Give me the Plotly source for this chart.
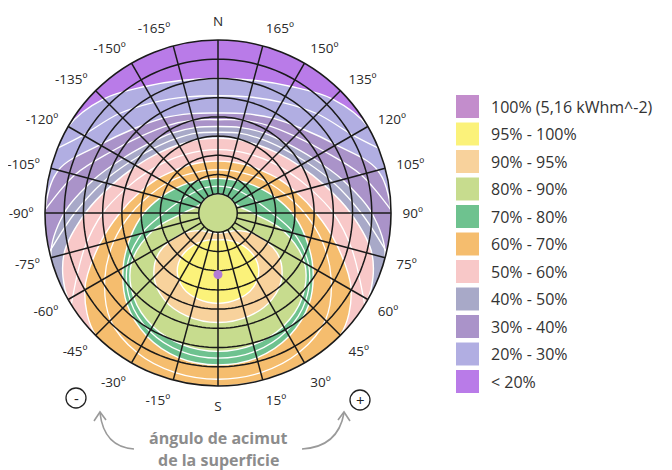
import numpy as np
import plotly.graph_objects as go

W, H = 672, 470

# ---------------- data ----------------
# azimuth of the surface (deg, 0 = south)
AZ = [-180, -165, -150, -135, -120, -105, -90, -75, -60, -45, -30, -15, 0,
      15, 30, 45, 60, 75, 90, 105, 120, 135, 150, 165, 180]

# tilt (deg) at which irradiation falls below each threshold, per azimuth in AZ
R20 = [70, 71.5, 76, 84, 90, 90, 90, 90, 90, 90, 90, 90, 90,
       90, 90, 90, 90, 90, 90, 90, 90, 84, 76, 71.5, 70]
R30 = [52, 53.5, 57, 62, 71, 86, 90, 90, 90, 90, 90, 90, 90,
       90, 90, 90, 90, 90, 90, 86, 71, 62, 57, 53.5, 52]
R40 = [45, 46, 48, 51, 57, 67, 80, 90, 90, 90, 90, 90, 90,
       90, 90, 90, 90, 90, 80, 67, 57, 51, 48, 46, 45]
R50 = [39, 39.5, 41, 44, 49, 57, 69, 83, 90, 90, 90, 90, 90,
       90, 90, 90, 90, 83, 69, 57, 49, 44, 41, 39.5, 39]
R60 = [27, 27.5, 29, 31.5, 36, 42, 51, 64, 80, 90, 90, 90, 90,
       90, 90, 90, 80, 64, 51, 42, 36, 31.5, 29, 27.5, 27]
R70 = [18, 18.3, 19.5, 22, 25.5, 31, 38.5, 47, 57, 67, 74, 78, 79,
       78, 74, 67, 57, 47, 38.5, 31, 25.5, 22, 19.5, 18.3, 18]
R80 = [10, 10, 10, 10, 10, 12, 18, 35, 52, 62, 68, 71, 72,
       71, 68, 62, 52, 35, 18, 12, 10, 10, 10, 10, 10]

# closed regions around the optimum (not containing the horizontal plane)
AZ90 = [0, 17, 32, 45, 56, 60, 45, 25, 0, -25, -45, -60, -56, -45, -32, -17, 0]
R90 = [57, 56, 53, 47, 37, 22, 13, 11, 10.5, 11, 13, 22, 37, 47, 53, 56, 57]
AZ95 = [0, 13, 25, 35, 40, 36, 20, 0, -20, -36, -40, -35, -25, -13, 0]
R95 = [47, 46, 43, 37, 29, 20, 15, 14, 15, 20, 29, 37, 43, 46, 47]

# intermediate 5 % contour lines (white lines inside the bands)
AZ25 = [112, 120, 135, 150, 165, 180, -165, -150, -135, -120, -112]
R25 = [90, 81, 73, 66.5, 62.5, 61, 62.5, 66.5, 73, 81, 90]
AZ35 = [91, 105, 120, 135, 150, 165, 180, -165, -150, -135, -120, -105, -91]
R35 = [90, 77, 64, 56.5, 52.5, 50, 48.5, 50, 52.5, 56.5, 64, 77, 90]
AZ45 = [77, 90, 105, 120, 135, 150, 165, 180, -165, -150, -135, -120, -105, -90, -77]
R45 = [90, 74.5, 62, 53, 47.5, 44.5, 43, 42, 43, 44.5, 47.5, 53, 62, 74.5, 90]
AZ55 = [58, 75, 90, 105, 120, 135, 150, 165, 180, -165, -150, -135, -120, -105, -90, -75, -58]
R55 = [90, 72, 60, 49.5, 42.5, 38, 35, 33.5, 33, 33.5, 35, 38, 42.5, 49.5, 60, 72, 90]
R65 = [22.5, 23, 24.3, 27, 31, 36.5, 45, 56, 68, 79, 84, 86, 86.5,
       86, 84, 79, 68, 56, 45, 36.5, 31, 27, 24.3, 23, 22.5]
R75 = [14, 14.2, 15, 16, 18, 21.5, 28, 41, 54.5, 64.5, 71, 74.5, 75.5,
       74.5, 71, 64.5, 54.5, 41, 28, 21.5, 18, 16, 15, 14.2, 14]

OPT_AZ, OPT_TILT = 0, 32

LEGEND_LABELS = ["100% (5,16 kWhm^-2)", "95% - 100%", "90% - 95%", "80% - 90%",
                 "70% - 80%", "60% - 70%", "50% - 60%", "40% - 50%",
                 "30% - 40%", "20% - 30%", "< 20%"]
LEGEND_COLORS = ["#c38dcc", "#fbf27a", "#f8d29c", "#c7dc8e", "#6ec28f",
                 "#f5bd6e", "#f8c8c8", "#a8a9c8", "#aa93c9", "#b1aee2", "#b97be8"]

TICKVALS = list(range(0, 360, 15))
TICKTEXT = ["S" if v == 0 else "N" if v == 180 else
            (f"{v}º" if v < 180 else f"-{360 - v}º") for v in TICKVALS]

# ---------------- figure ----------------
fig = go.Figure()

bands = [
    (AZ, R20, LEGEND_COLORS[9]),
    (AZ, R30, LEGEND_COLORS[8]),
    (AZ, R40, LEGEND_COLORS[7]),
    (AZ, R50, LEGEND_COLORS[6]),
    (AZ, R60, LEGEND_COLORS[5]),
    (AZ, R70, LEGEND_COLORS[4]),
    (AZ, R80, LEGEND_COLORS[3]),
    (AZ90, R90, LEGEND_COLORS[2]),
    (AZ95, R95, LEGEND_COLORS[1]),
]
for th, rr, col in bands:
    fig.add_trace(go.Scatterpolar(
        r=rr, theta=th, mode="lines", fill="toself", fillcolor=col,
        line=dict(color="white", width=1.4, shape="spline", smoothing=1),
        hoverinfo="skip", showlegend=False))

for th, rr in [(AZ25, R25), (AZ35, R35), (AZ45, R45), (AZ55, R55),
               (AZ, R65), (AZ, R75)]:
    fig.add_trace(go.Scatterpolar(
        r=rr, theta=th, mode="lines",
        line=dict(color="white", width=1.3, shape="spline", smoothing=1),
        hoverinfo="skip", showlegend=False))

# grid: circles every 10 deg of tilt, spokes every 15 deg of azimuth (from 10 deg tilt)
gr, gt = [], []
ring = np.arange(0, 361, 2)
for k in range(10, 90, 10):
    gr += [k] * len(ring) + [None]
    gt += list(ring) + [None]
for a in TICKVALS:
    gr += [10, 90, None]
    gt += [a, a, None]
fig.add_trace(go.Scatterpolar(r=gr, theta=gt, mode="lines",
                              line=dict(color="#1a1a1a", width=1.5),
                              hoverinfo="skip", showlegend=False))

# optimum point
fig.add_trace(go.Scatterpolar(r=[OPT_TILT], theta=[OPT_AZ], mode="markers",
                              marker=dict(color="#b47bd6", size=9),
                              hoverinfo="skip", showlegend=False))

OFF = 8  # page body margin


def X(px):
    return (px - OFF) / W


def Y(py):
    return 1 - (py - OFF) / H


cx, cy, R = 218, 213, 173
fig.update_layout(
    width=W, height=H, margin=dict(l=0, r=0, t=0, b=0),
    paper_bgcolor="white", plot_bgcolor="white",
    font=dict(family="Open Sans", color="#333333"),
    polar=dict(
        domain=dict(x=[X(cx - R), X(cx + R)], y=[Y(cy + R), Y(cy - R)]),
        bgcolor=LEGEND_COLORS[10],
        radialaxis=dict(range=[0, 90], showgrid=False, showline=False,
                        showticklabels=False, ticks=""),
        angularaxis=dict(rotation=270, direction="counterclockwise",
                         tickmode="array", tickvals=TICKVALS, ticktext=TICKTEXT,
                         showgrid=False, showline=True, linecolor="#1a1a1a",
                         linewidth=1.6, ticks="outside", ticklen=8,
                         tickcolor="rgba(0,0,0,0)",
                         tickfont=dict(size=13.5, color="#2a2a2a")),
    ),
)

shapes, annos = [], []
# legend
for i, (lab, col) in enumerate(zip(LEGEND_LABELS, LEGEND_COLORS)):
    top = 95 + 27.5 * i
    shapes.append(dict(type="rect", xref="paper", yref="paper",
                       x0=X(456), x1=X(479), y0=Y(top + 23), y1=Y(top),
                       fillcolor=col, line=dict(width=0)))
    annos.append(dict(x=X(489), y=Y(top + 11.5), xref="paper", yref="paper",
                      text=lab, showarrow=False, xanchor="left", yanchor="middle",
                      font=dict(size=16, color="#333333")))

# circled - and +
for (px, py, t) in [(76, 398, "-"), (360, 400, "+")]:
    shapes.append(dict(type="circle", xref="paper", yref="paper",
                       x0=X(px - 10), x1=X(px + 10), y0=Y(py + 10), y1=Y(py - 10),
                       line=dict(color="#222222", width=1.3)))
    annos.append(dict(x=X(px), y=Y(py), xref="paper", yref="paper", text=t,
                      showarrow=False, xanchor="center", yanchor="middle",
                      font=dict(size=15, color="#222222")))


def P(px, py):
    return f"{X(px):.5f},{Y(py):.5f}"


arrow_col = "#9a9a9a"
shapes.append(dict(type="path", xref="paper", yref="paper",
                   path=f"M {P(134, 449)} Q {P(104, 447)} {P(100, 413)}",
                   line=dict(color=arrow_col, width=1.6)))
shapes.append(dict(type="path", xref="paper", yref="paper",
                   path=f"M {P(94, 421)} L {P(100, 412)} L {P(106, 420)}",
                   line=dict(color=arrow_col, width=1.6)))
shapes.append(dict(type="path", xref="paper", yref="paper",
                   path=f"M {P(302, 449)} Q {P(338, 447)} {P(344, 413)}",
                   line=dict(color=arrow_col, width=1.6)))
shapes.append(dict(type="path", xref="paper", yref="paper",
                   path=f"M {P(338, 420)} L {P(344, 412)} L {P(350, 421)}",
                   line=dict(color=arrow_col, width=1.6)))

annos.append(dict(x=X(218), y=Y(438), xref="paper", yref="paper",
                  text="<b>ángulo de acimut</b>", showarrow=False,
                  xanchor="center", yanchor="middle",
                  font=dict(size=16, color="#8c8c8c")))
annos.append(dict(x=X(218), y=Y(460), xref="paper", yref="paper",
                  text="<b>de la superficie</b>", showarrow=False,
                  xanchor="center", yanchor="middle",
                  font=dict(size=16, color="#8c8c8c")))

fig.update_layout(shapes=shapes, annotations=annos)
fig.write_html("out.html")
